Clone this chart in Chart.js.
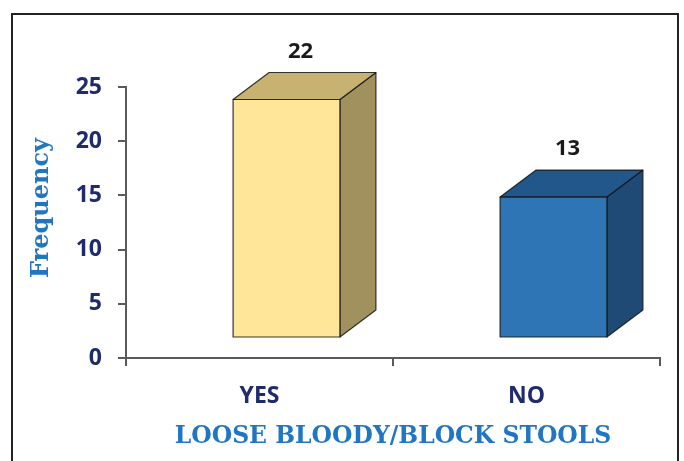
<!DOCTYPE html>
<html>
<head>
<meta charset="utf-8">
<script src="https://cdn.jsdelivr.net/npm/chart.js@4/dist/chart.umd.min.js"></script>
<style>
  html, body { margin: 0; padding: 0; background: #fff; }
  #wrap { width: 684px; height: 461px; }
</style>
</head>
<body>
<div id="wrap"><canvas id="myChart" width="684" height="461"></canvas></div>
<script>
// data
const categories = ['YES', 'NO'];
const frequency = [22, 13];
const yTicks = [0, 5, 10, 15, 20, 25];
const yTitle = 'Frequency';
const xTitle = 'LOOSE BLOODY/BLOCK STOOLS';

// 3d look: front, top, side colour per bar
const faceColors = [
  { front: '#FFE699', top: '#C7B272', side: '#A1915F' },
  { front: '#2E75B6', top: '#22578B', side: '#1F4A76' }
];
const DEPTH_X = 36, DEPTH_Y = 27, LIFT = 20, SHIFT = 27;
const titleBlue = '#2176C4';

const frame = {
  id: 'frame',
  beforeDraw(chart) {
    const ctx = chart.ctx;
    ctx.save();
    ctx.fillStyle = '#fff';
    ctx.fillRect(0, 0, chart.width, chart.height);
    ctx.strokeStyle = '#222';
    ctx.lineWidth = 2;
    ctx.strokeRect(12, 14, 666, 500);
    ctx.restore();
  },
  // y title sits a bit above the middle of the axis in the original
  afterDraw(chart) {
    const ctx = chart.ctx;
    ctx.save();
    ctx.translate(42, 208);
    ctx.rotate(-Math.PI / 2);
    ctx.fillStyle = titleBlue;
    ctx.font = 'bold 24px "DejaVu Serif"';
    ctx.textAlign = 'center';
    ctx.textBaseline = 'middle';
    ctx.fillText(yTitle, 0, 0);
    ctx.restore();
  }
};

const bars3d = {
  id: 'bars3d',
  afterDatasetsDraw(chart) {
    const ctx = chart.ctx;
    const meta = chart.getDatasetMeta(0);
    ctx.save();
    meta.data.forEach((bar, i) => {
      const c = faceColors[i];
      const w = bar.width;
      const x0 = bar.x - w / 2 + SHIFT, x1 = bar.x + w / 2 + SHIFT;
      const yt = bar.y - LIFT, yb = bar.base - LIFT;
      ctx.lineWidth = 1.2;
      ctx.strokeStyle = 'rgba(20,20,20,0.85)';
      ctx.lineJoin = 'round';
      // side
      ctx.beginPath();
      ctx.moveTo(x1, yt); ctx.lineTo(x1 + DEPTH_X, yt - DEPTH_Y);
      ctx.lineTo(x1 + DEPTH_X, yb - DEPTH_Y); ctx.lineTo(x1, yb); ctx.closePath();
      ctx.fillStyle = c.side; ctx.fill(); ctx.stroke();
      // top
      ctx.beginPath();
      ctx.moveTo(x0, yt); ctx.lineTo(x0 + DEPTH_X, yt - DEPTH_Y);
      ctx.lineTo(x1 + DEPTH_X, yt - DEPTH_Y); ctx.lineTo(x1, yt); ctx.closePath();
      ctx.fillStyle = c.top; ctx.fill(); ctx.stroke();
      // front
      ctx.beginPath();
      ctx.rect(x0, yt, w, yb - yt);
      ctx.fillStyle = c.front; ctx.fill(); ctx.stroke();
      // value label
      ctx.fillStyle = '#1a1a1a';
      ctx.font = 'bold 22px "Open Sans"';
      ctx.textAlign = 'center';
      ctx.textBaseline = 'middle';
      ctx.fillText(String(frequency[i]), bar.x + SHIFT + 14, yt - DEPTH_Y - 21);
    });
    ctx.restore();
  }
};

const data = {
  labels: categories,
  datasets: [{
    label: yTitle,
    data: frequency,
    backgroundColor: 'rgba(0,0,0,0)',
    borderWidth: 0,
    barPercentage: 0.4,
    categoryPercentage: 1
  }]
};

const tickFont = { family: '"Open Sans"', size: 23, weight: 'bold' };
const navy = '#1F2C6B';
const axisGrey = '#5a5a5a';

const config = {
  type: 'bar',
  data,
  plugins: [frame, bars3d],
  options: {
    responsive: false,
    animation: false,
    layout: { padding: { left: 0, top: 87, right: 24, bottom: 0 } },
    plugins: { legend: { display: false }, tooltip: { enabled: false } },
    scales: {
      x: {
        afterFit(scale) { scale.height = 103; },
        grid: { drawOnChartArea: false, tickLength: 8, color: axisGrey, lineWidth: 2, offset: true },
        border: { color: axisGrey, width: 2 },
        ticks: { color: navy, font: tickFont, padding: 17 },
        title: {
          display: true,
          text: xTitle,
          color: titleBlue,
          font: { family: '"DejaVu Serif"', size: 23.5, weight: 'bold' },
          padding: { top: 0, bottom: 10 }
        }
      },
      y: {
        min: 0,
        max: 25,
        afterFit(scale) { scale.width = 126; },
        afterBuildTicks(scale) { scale.ticks = yTicks.map(v => ({ value: v })); },
        grid: { drawOnChartArea: false, tickLength: 8, color: axisGrey, lineWidth: 2 },
        border: { color: axisGrey, width: 2 },
        ticks: { color: navy, font: tickFont, padding: 16 }
      }
    }
  }
};

const myChart = new Chart(document.getElementById('myChart'), config);
</script>
</body>
</html>
